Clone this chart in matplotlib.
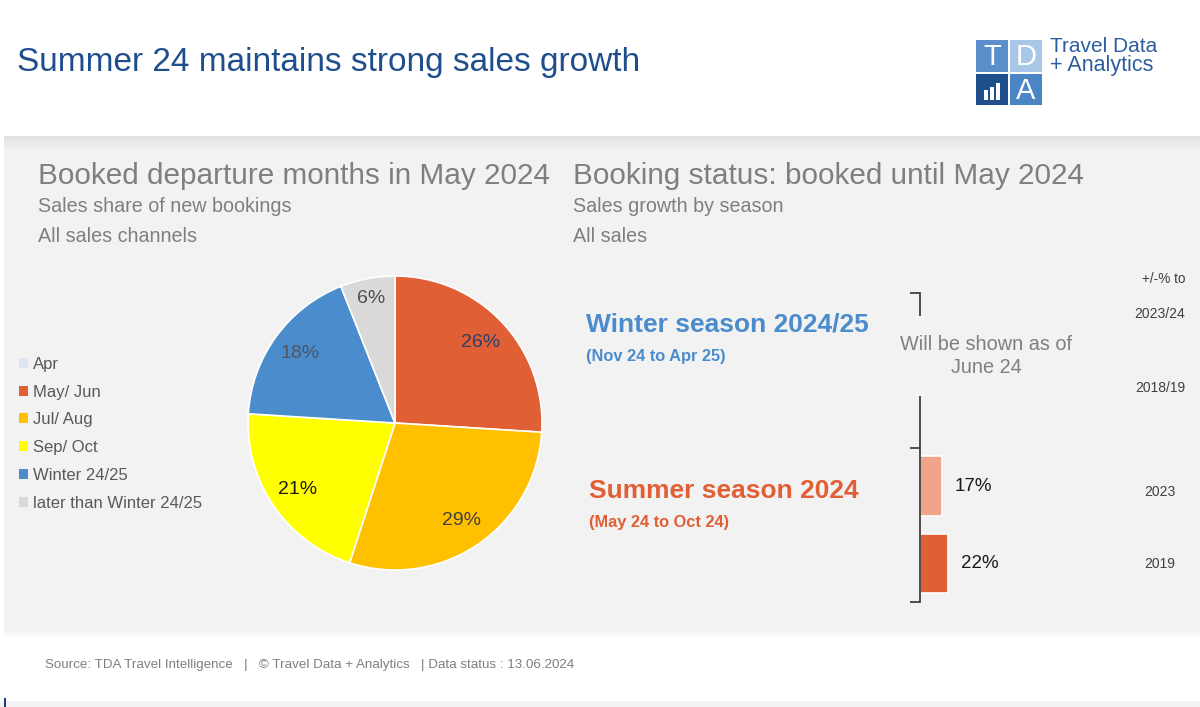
import numpy as np
import matplotlib
matplotlib.use("Agg")
import matplotlib.pyplot as plt
from matplotlib.patches import Rectangle

plt.rcParams['font.family'] = ['Liberation Sans', 'DejaVu Sans']

# ---------------- data ----------------
months = ["Apr", "May/ Jun", "Jul/ Aug", "Sep/ Oct", "Winter 24/25", "later than Winter 24/25"]
shares = [0, 26, 29, 21, 18, 6]
month_colors = ["#dce6f2", "#e05f35", "#ffc000", "#ffff00", "#4a8ccc", "#d9d9d9"]
pct_colors = ["#505050", "#2e3f66", "#404040", "#1a1a1a", "#505560", "#505050"]

compare_labels = ["2023/24", "2018/19", "2023", "2019"]
growth = [np.nan, np.nan, 17, 22]
bar_colors = ["#f0a48a", "#f0a48a", "#f0a48a", "#e05f35"]

W, H = 1200, 707
fig = plt.figure(figsize=(W / 100, H / 100), dpi=100)
fig.patch.set_facecolor("white")

# background / decoration axes in pixel coordinates
bg = fig.add_axes([0, 0, 1, 1], zorder=-5)
bg.set_xlim(0, W)
bg.set_ylim(H, 0)
bg.axis("off")

PANEL = "#f2f2f2"
bg.add_patch(Rectangle((4, 136), W - 4, 494, facecolor=PANEL, edgecolor="none"))
# top shadow of panel
for i in range(14):
    a = 0.16 * (1 - i / 14)
    bg.add_patch(Rectangle((4, 136 + i), W - 4, 1, facecolor="#8a8a8a", alpha=a, edgecolor="none"))
# bottom shadow
for i in range(8):
    a = 0.10 * (1 - i / 8)
    bg.add_patch(Rectangle((4, 630 + i), W - 4, 1, facecolor="#8a8a8a", alpha=a, edgecolor="none"))
# bottom strip
bg.add_patch(Rectangle((0, 701), W, 6, facecolor="#f3f3f3", edgecolor="none"))
bg.add_patch(Rectangle((4, 698), 2, 9, facecolor="#1f3d7a", edgecolor="none"))

# logo
bg.add_patch(Rectangle((976, 40), 32, 32, facecolor="#5b8fcb", edgecolor="none"))
bg.add_patch(Rectangle((1010, 40), 32, 32, facecolor="#a8c6e8", edgecolor="none"))
bg.add_patch(Rectangle((976, 74), 32, 31, facecolor="#1f4e8c", edgecolor="none"))
bg.add_patch(Rectangle((1010, 74), 32, 31, facecolor="#4a86c5", edgecolor="none"))
bg.text(992, 57, "T", color="white", fontsize=21, ha="center", va="center")
bg.text(1026, 57, "D", color="white", fontsize=21, ha="center", va="center")
bg.text(1026, 91, "A", color="white", fontsize=21, ha="center", va="center")
for k, hgt in enumerate([10, 13, 17]):
    bg.add_patch(Rectangle((984 + k * 6, 100 - hgt), 3.5, hgt, facecolor="white", edgecolor="none"))
bg.text(1050, 47, "Travel Data", color="#2e5d9f", fontsize=15, ha="left", va="center")
bg.text(1050, 66, "+ Analytics", color="#2e5d9f", fontsize=15.5, ha="left", va="center")

# titles
bg.text(17, 63, "Summer 24 maintains strong sales growth", color="#1f4e8c", fontsize=24, ha="left", va="center")
GRAY = "#7f7f7f"
bg.text(38, 176, "Booked departure months in May 2024", color=GRAY, fontsize=21.4, ha="left", va="center")
bg.text(38, 207, "Sales share of new bookings", color=GRAY, fontsize=14.2, ha="left", va="center")
bg.text(38, 236, "All sales channels", color=GRAY, fontsize=14.2, ha="left", va="center")
bg.text(573, 176, "Booking status: booked until May 2024", color=GRAY, fontsize=21.4, ha="left", va="center")
bg.text(573, 207, "Sales growth by season", color=GRAY, fontsize=14.2, ha="left", va="center")
bg.text(573, 236, "All sales", color=GRAY, fontsize=14.2, ha="left", va="center")

bg.text(586, 325, "Winter season 2024/25", color="#4a8ccc", fontsize=19, fontweight="bold", ha="left", va="center")
bg.text(586, 356, "(Nov 24 to Apr 25)", color="#4a8ccc", fontsize=11.8, fontweight="bold", ha="left", va="center")
bg.text(589, 491, "Summer season 2024", color="#e05f35", fontsize=19, fontweight="bold", ha="left", va="center")
bg.text(589, 522, "(May 24 to Oct 24)", color="#e05f35", fontsize=11.8, fontweight="bold", ha="left", va="center")

bg.text(45, 665, "Source: TDA Travel Intelligence   |   \u00a9 Travel Data + Analytics   | Data status : 13.06.2024",
        color=GRAY, fontsize=9.65, ha="left", va="center")

# ---------------- pie ----------------
cx, cy, r = 395, 423, 147
pax = fig.add_axes([(cx - r) / W, (H - cy - r) / H, 2 * r / W, 2 * r / H])
pax.set_facecolor("none")
wedges, _ = pax.pie(shares, colors=month_colors, startangle=90, counterclock=False, radius=1,
                    wedgeprops=dict(edgecolor="white", linewidth=1.2))
pax.set_xlim(-1, 1)
pax.set_ylim(-1, 1)
pax.axis("off")
for w, v, c in zip(wedges, shares, pct_colors):
    if v <= 0:
        continue
    ang = np.deg2rad((w.theta1 + w.theta2) / 2)
    d = 0.86 if v < 10 else 0.8
    pax.text(d * np.cos(ang), d * np.sin(ang), f"{v}%", color=c, fontsize=14, ha="center", va="center")

leg = pax.legend(wedges, months, loc="upper left", bbox_to_anchor=(12 / W, (H - 350) / H),
                 bbox_transform=fig.transFigure, frameon=False, fontsize=12, handlelength=0.55,
                 handleheight=0.55, handletextpad=0.3, labelspacing=0.77, borderaxespad=0)
for t in leg.get_texts():
    t.set_color("#595959")
for hnd in leg.legend_handles:
    hnd.set_edgecolor("none")

# ---------------- bars ----------------
top_px, bot_px, left_px = 293, 602, 920
bax = fig.add_axes([left_px / W, (H - bot_px) / H, 129 / W, (bot_px - top_px) / H])
bax.set_facecolor("none")
ypos = np.arange(len(compare_labels))
bars = bax.barh(ypos, growth, height=0.77, color=bar_colors, edgecolor="white", linewidth=1.2)
bax.set_xlim(0, 100)
bax.set_ylim(len(compare_labels) - 0.5, -0.5)
for s in ["top", "right", "bottom"]:
    bax.spines[s].set_visible(False)
bax.spines["left"].set_color("#404040")
bax.spines["left"].set_linewidth(1.3)
bax.set_xticks([])
bax.set_yticks([-0.5, 1.5, 3.5])
bax.set_yticklabels([])
bax.tick_params(axis="y", direction="out", length=7, width=1.3, color="#404040")
bax.bar_label(bars, labels=[("" if np.isnan(v) else f"{int(v)}%") for v in growth],
              padding=9, fontsize=13.5, color="#1a1a1a")

label_offsets = [-18, -21, 6, 1]
for yv, lab, off in zip(ypos, compare_labels, label_offsets):
    bax.annotate(lab, xy=(1160 / W, yv), xycoords=("figure fraction", "data"),
                 xytext=(0, -off * 0.72), textcoords="offset points",
                 ha="center", va="center", fontsize=10, color="#404040")
bg.text(1164, 279, "+/-% to", color="#404040", fontsize=9.8, ha="center", va="center")

fig.text(986 / W, (H - 356) / H, "Will be shown as of\nJune 24", color=GRAY, fontsize=14.3,
         ha="center", va="center", linespacing=1.25, zorder=5,
         bbox=dict(facecolor=PANEL, edgecolor="none", pad=14))

fig.savefig("out.png", dpi=100, facecolor=fig.get_facecolor())
